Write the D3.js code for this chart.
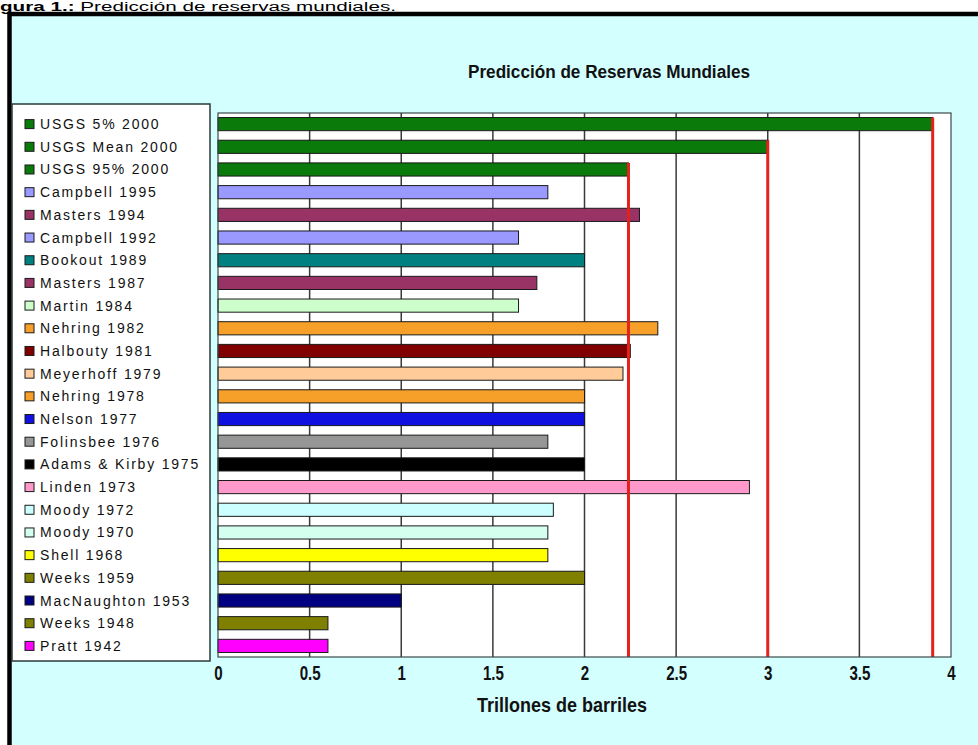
<!DOCTYPE html>
<html>
<head>
<meta charset="utf-8">
<script src="https://cdn.jsdelivr.net/npm/d3@7"></script>
<style>
  html, body { margin: 0; padding: 0; background: #fff; }
  svg { display: block; }
</style>
</head>
<body>
<div id="chart"></div>
<script>
// estimates (trillions of barrels), top to bottom
const categories = [
  "USGS 5% 2000", "USGS Mean 2000", "USGS 95% 2000", "Campbell 1995",
  "Masters 1994", "Campbell 1992", "Bookout 1989", "Masters 1987",
  "Martin 1984", "Nehring 1982", "Halbouty 1981", "Meyerhoff 1979",
  "Nehring 1978", "Nelson 1977", "Folinsbee 1976", "Adams & Kirby 1975",
  "Linden 1973", "Moody 1972", "Moody 1970", "Shell 1968",
  "Weeks 1959", "MacNaughton 1953", "Weeks 1948", "Pratt 1942"
];
const values = [
  3.9, 3.0, 2.24, 1.8,
  2.3, 1.64, 2.0, 1.74,
  1.64, 2.4, 2.25, 2.21,
  2.0, 2.0, 1.8, 2.0,
  2.9, 1.83, 1.8, 1.8,
  2.0, 1.0, 0.6, 0.6
];
const barColors = [
  "#0a7a0a", "#0a7a0a", "#0a7a0a", "#9999ff",
  "#993366", "#9999ff", "#008080", "#993366",
  "#ccffcc", "#f6a02a", "#800000", "#ffcc99",
  "#f6a02a", "#1010e0", "#969696", "#000000",
  "#ff99cc", "#ccffff", "#d4ffee", "#ffff00",
  "#808000", "#000080", "#808000", "#ff00ff"
];
const tickValues = [0, 0.5, 1, 1.5, 2, 2.5, 3, 3.5, 4];
// red reference lines drawn at the three USGS estimates
const refIndex = [0, 1, 2];

const W = 978, H = 745;
const PLOT = { left: 218, right: 951, top: 113, bottom: 657 };
const LEGEND = { left: 12, right: 210, top: 104, bottom: 661 };

const svg = d3.select("#chart").append("svg")
  .attr("width", W).attr("height", H);

// frame
svg.append("rect")
  .attr("x", 9.5).attr("y", 14)
  .attr("width", W + 20).attr("height", H + 20)
  .attr("fill", "#d4ffff")
  .attr("stroke", "#000")
  .attr("stroke-width", 4.5);

// caption above the frame (cut at the top in the original, kept whole here)
const cap = svg.append("text")
  .attr("x", 0).attr("y", 11)
  .attr("font-family", "Liberation Sans, Arial, sans-serif")
  .attr("font-size", 12)
  .attr("textLength", 396)
  .attr("lengthAdjust", "spacingAndGlyphs");
cap.append("tspan").attr("font-weight", "bold").text("gura 1.:");
cap.append("tspan").text(" Predicción de reservas mundiales.");

// scales
const x = d3.scaleLinear().domain([0, 4]).range([PLOT.left, PLOT.right]);
const y = d3.scaleBand().domain(categories)
  .range([PLOT.top, PLOT.bottom])
  .paddingInner(0.42).paddingOuter(0.2);

// title
svg.append("text")
  .attr("x", 609).attr("y", 78)
  .attr("text-anchor", "middle")
  .attr("font-family", "Liberation Sans, Arial, sans-serif")
  .attr("font-weight", "bold")
  .attr("font-size", 17.5)
  .attr("textLength", 282)
  .attr("lengthAdjust", "spacingAndGlyphs")
  .attr("fill", "#111")
  .text("Predicción de Reservas Mundiales");

// plot background
svg.append("rect")
  .attr("x", PLOT.left).attr("y", PLOT.top)
  .attr("width", PLOT.right - PLOT.left).attr("height", PLOT.bottom - PLOT.top)
  .attr("fill", "#fff");

// vertical grid lines
svg.append("g")
  .selectAll("line")
  .data(tickValues.filter(d => d > 0 && d < 4))
  .join("line")
  .attr("x1", d => x(d)).attr("x2", d => x(d))
  .attr("y1", PLOT.top).attr("y2", PLOT.bottom)
  .attr("stroke", "#3a3a3a")
  .attr("stroke-width", 1.5);

// bars
svg.append("g")
  .selectAll("rect")
  .data(categories)
  .join("rect")
  .attr("x", x(0))
  .attr("y", d => y(d))
  .attr("width", (d, i) => x(values[i]) - x(0))
  .attr("height", y.bandwidth())
  .attr("fill", (d, i) => barColors[i])
  .attr("stroke", "#1a1a1a")
  .attr("stroke-width", 1);

// red lines from USGS bars down to the axis
svg.append("g")
  .selectAll("line")
  .data(refIndex)
  .join("line")
  .attr("x1", i => x(values[i])).attr("x2", i => x(values[i]))
  .attr("y1", i => y(categories[i]))
  .attr("y2", PLOT.bottom)
  .attr("stroke", "#e3221b")
  .attr("stroke-width", 3);

// plot border
svg.append("rect")
  .attr("x", PLOT.left).attr("y", PLOT.top)
  .attr("width", PLOT.right - PLOT.left).attr("height", PLOT.bottom - PLOT.top)
  .attr("fill", "none")
  .attr("stroke", "#3a4a4a")
  .attr("stroke-width", 1.2);

// x axis (condensed bold labels)
const xAxis = svg.append("g")
  .attr("transform", `translate(0,${PLOT.bottom})`)
  .call(d3.axisBottom(x).tickValues(tickValues).tickSize(0).tickPadding(8)
    .tickFormat(d3.format("~g")));
xAxis.select(".domain").remove();
xAxis.selectAll("text")
  .attr("font-family", "Liberation Sans, Arial, sans-serif")
  .attr("font-weight", "bold")
  .attr("font-size", 21)
  .attr("transform", "scale(0.72,1)")
  .attr("fill", "#111");

svg.append("text")
  .attr("x", 562).attr("y", 712)
  .attr("text-anchor", "middle")
  .attr("font-family", "Liberation Sans, Arial, sans-serif")
  .attr("font-weight", "bold")
  .attr("font-size", 21)
  .attr("textLength", 170)
  .attr("lengthAdjust", "spacingAndGlyphs")
  .attr("fill", "#111")
  .text("Trillones de barriles");

// legend
svg.append("rect")
  .attr("x", LEGEND.left).attr("y", LEGEND.top)
  .attr("width", LEGEND.right - LEGEND.left).attr("height", LEGEND.bottom - LEGEND.top)
  .attr("fill", "#fff")
  .attr("stroke", "#2a3a3a")
  .attr("stroke-width", 1.5);

const item = svg.append("g")
  .selectAll("g")
  .data(categories)
  .join("g")
  .attr("transform", d => `translate(25,${y(d) + y.bandwidth() / 2})`);

item.append("rect")
  .attr("x", 0).attr("y", -4.5)
  .attr("width", 9).attr("height", 9)
  .attr("fill", (d, i) => barColors[i])
  .attr("stroke", "#1a1a1a")
  .attr("stroke-width", 1);

item.append("text")
  .attr("x", 15).attr("y", 5)
  .attr("font-family", "Liberation Sans, Arial, sans-serif")
  .attr("font-size", 14)
  .attr("letter-spacing", 1.8)
  .attr("fill", "#111")
  .text(d => d);
</script>
</body>
</html>
